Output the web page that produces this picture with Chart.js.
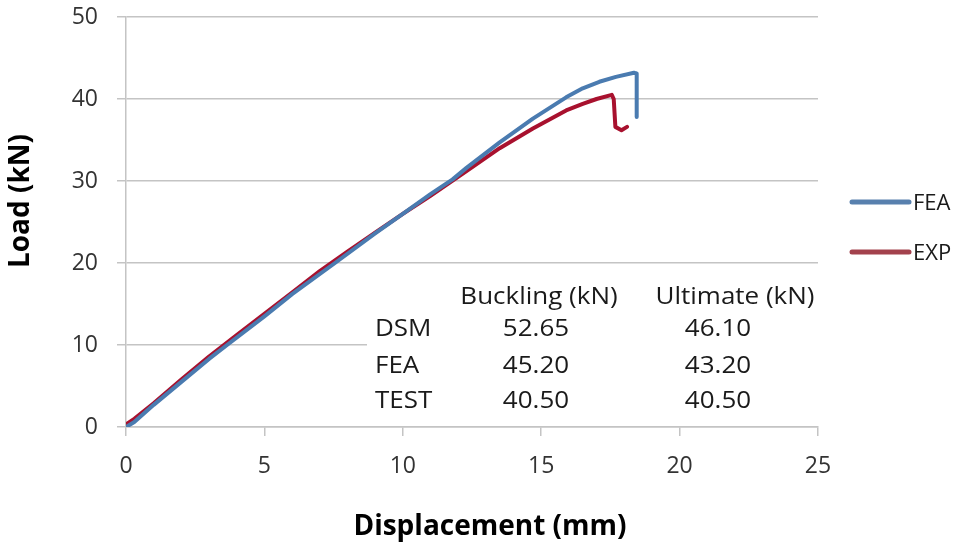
<!DOCTYPE html>
<html>
<head>
<meta charset="utf-8">
<script src="https://cdn.jsdelivr.net/npm/chart.js@4"></script>
<style>
  html, body { margin: 0; padding: 0; background: #fff; }
  #wrap { width: 961px; height: 544px; }
</style>
</head>
<body>
<div id="wrap"><canvas id="chart-load"></canvas></div>
<script>
// FEA curve (displacement mm, load kN)
const feaDisp = [0, 0.3, 1, 2, 3, 3.65, 5, 6, 7.55, 9, 10, 11, 11.8, 12.3, 13.5, 14.7, 15.9, 16.5, 17.1, 17.7, 18.35, 18.45, 18.45];
const feaLoad = [0, 0.6, 2.7, 5.5, 8.3, 10, 13.5, 16.2, 20, 23.6, 26.0, 28.4, 30.2, 31.6, 34.7, 37.6, 40.2, 41.3, 42.1, 42.7, 43.2, 43.1, 37.8];

// test curve
const expDisp = [0, 0.3, 1, 2, 3, 4, 5, 6, 7, 8, 9, 10, 11, 12.3, 13.5, 14.7, 15.9, 16.5, 17.0, 17.55, 17.62, 17.68, 17.9, 18.1];
const expLoad = [0.3, 1.0, 2.9, 5.8, 8.6, 11.2, 13.8, 16.4, 19.0, 21.4, 23.7, 26.0, 28.2, 31.2, 34.0, 36.4, 38.6, 39.4, 40.0, 40.5, 40.0, 36.6, 36.2, 36.6];

// table shown inside the plot
const tableHead = ["Buckling (kN)", "Ultimate (kN)"];
const tableRows = ["DSM", "FEA", "TEST"];
const buckling = ["52.65", "45.20", "40.50"];
const ultimate = ["46.10", "43.20", "40.50"];

const seriesNames = ["FEA", "EXP"];

function toPoints(xs, ys) {
    let pts = [];
    for (let i = 0; i < xs.length; i++) {
        pts.push({ x: xs[i], y: ys[i] });
    }
    return pts;
}

const blue = "#4A7BB0";
const red = "#A8112E";

// legend, table box and axis titles drawn by hand (Excel-like layout)
const extras = {
    id: "extras",
    afterDatasetsDraw(chart) {
        const ctx = chart.ctx;
        ctx.save();

        // white box behind the table
        ctx.fillStyle = "#fff";
        ctx.fillRect(367, 274, 470, 145);

        ctx.fillStyle = "#1a1a1a";
        ctx.font = "23px 'Open Sans'";
        ctx.textBaseline = "alphabetic";
        const sx = 1.13;
        function txt(s, x, y, align) {
            ctx.save();
            ctx.translate(x, y);
            ctx.scale(sx, 1);
            ctx.textAlign = align;
            ctx.fillText(s, 0, 0);
            ctx.restore();
        }
        txt(tableHead[0], 539, 304, "center");
        txt(tableHead[1], 735, 304, "center");
        const rowY = [336, 373, 408];
        for (let i = 0; i < tableRows.length; i++) {
            txt(tableRows[i], 375, rowY[i], "left");
            txt(buckling[i], 536, rowY[i], "center");
            txt(ultimate[i], 718, rowY[i], "center");
        }

        // legend
        const legColors = ["#5880AE", "#A3424D"];
        const legY = [202, 252];
        ctx.lineWidth = 5;
        ctx.lineCap = "round";
        for (let i = 0; i < seriesNames.length; i++) {
            ctx.strokeStyle = legColors[i];
            ctx.beginPath();
            ctx.moveTo(852, legY[i]);
            ctx.lineTo(909, legY[i]);
            ctx.stroke();
            ctx.fillStyle = "#1a1a1a";
            ctx.font = "22px 'Open Sans'";
            ctx.textAlign = "left";
            ctx.fillText(seriesNames[i], 913, legY[i] + 8);
        }

        // axis titles
        ctx.fillStyle = "#000";
        ctx.font = "bold 28px 'Open Sans'";
        ctx.textAlign = "center";
        ctx.fillText("Displacement (mm)", 490, 535);
        ctx.translate(29, 201);
        ctx.rotate(-Math.PI / 2);
        ctx.fillText("Load (kN)", 0, 0);

        ctx.restore();
    },
};

var ctx = document.getElementById("chart-load").getContext("2d");

new Chart(ctx, {
    type: "line",
    data: {
        datasets: [
            {
                label: seriesNames[0],
                data: toPoints(feaDisp, feaLoad),
                borderColor: blue,
                borderWidth: 4,
                pointRadius: 0,
                tension: 0,
                borderJoinStyle: "round",
                borderCapStyle: "round",
                fill: false,
            },
            {
                label: seriesNames[1],
                data: toPoints(expDisp, expLoad),
                borderColor: red,
                borderWidth: 4,
                pointRadius: 0,
                tension: 0,
                borderJoinStyle: "round",
                borderCapStyle: "round",
                fill: false,
            },
        ],
    },
    options: {
        responsive: true,
        maintainAspectRatio: false,
        animation: false,
        layout: {
            padding: { left: 0, top: 17, right: 143, bottom: 0 },
        },
        plugins: {
            legend: { display: false },
            tooltip: { enabled: false },
        },
        scales: {
            x: {
                type: "linear",
                min: 0,
                max: 25,
                afterFit(scale) {
                    scale.height = 117;
                    scale.paddingLeft = 0;
                    scale.paddingRight = 0;
                },
                border: { display: true, color: "#C4C4C4", width: 1.5 },
                grid: {
                    display: true,
                    drawOnChartArea: false,
                    drawTicks: true,
                    tickLength: 9,
                    color: "#C4C4C4",
                    lineWidth: 1.5,
                },
                ticks: {
                    stepSize: 5,
                    padding: 17,
                    color: "#333",
                    font: { size: 23, family: "Open Sans" },
                },
            },
            y: {
                min: 0,
                max: 50,
                afterFit(scale) {
                    scale.width = 126;
                    scale.paddingTop = 0;
                    scale.paddingBottom = 0;
                },
                border: { display: true, color: "#C4C4C4", width: 1.5 },
                grid: {
                    display: true,
                    drawOnChartArea: true,
                    drawTicks: true,
                    tickLength: 9,
                    color: "#C4C4C4",
                    lineWidth: 1.5,
                },
                ticks: {
                    stepSize: 10,
                    padding: 19,
                    color: "#333",
                    font: { size: 23, family: "Open Sans" },
                },
            },
        },
    },
    plugins: [extras],
});
</script>
</body>
</html>
